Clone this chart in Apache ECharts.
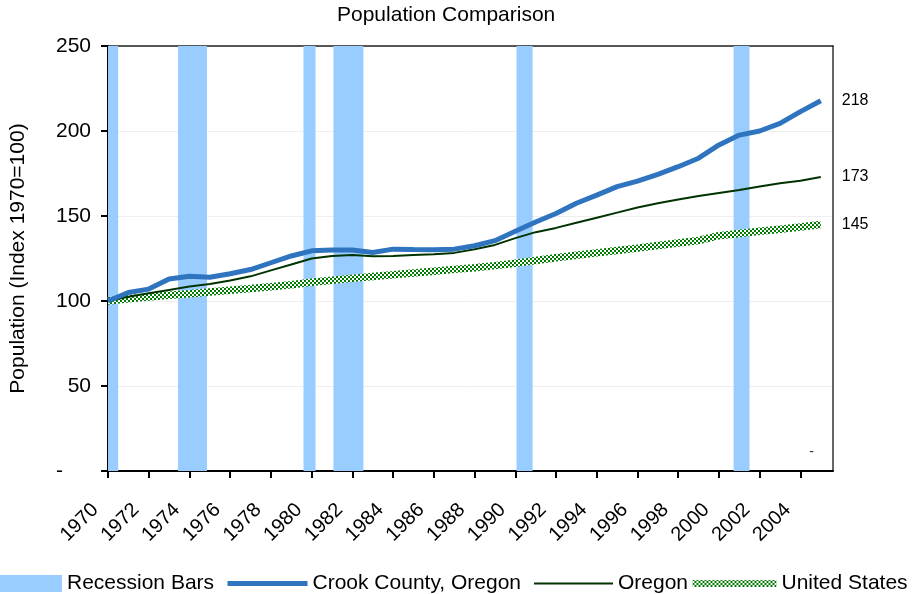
<!DOCTYPE html>
<html>
<head>
<meta charset="utf-8">
<script src="https://cdn.jsdelivr.net/npm/echarts@6/dist/echarts.min.js"></script>
<style>html,body{margin:0;padding:0;background:#fff}#c{width:913px;height:594px}</style>
</head>
<body>
<div id="c"></div>
<script>
// ---- data ----
const years = [1970,1971,1972,1973,1974,1975,1976,1977,1978,1979,1980,1981,1982,1983,1984,1985,1986,1987,1988,1989,1990,1991,1992,1993,1994,1995,1996,1997,1998,1999,2000,2001,2002,2003,2004,2005];
const crookCounty = [100,105,107,113,114.5,114,116,118.5,122.5,126.5,129.5,130,130,128.5,130.5,130.3,130.2,130.5,132.5,135.5,141,146.5,151.5,157.5,162.3,167.3,170.5,174.5,179,184,191.8,197.6,200,204.5,211.4,217.8];
const oregon = [100,102.5,104.5,106.5,108.5,110,112,114.5,118,121.5,125,126.5,127,126.3,126.5,127,127.5,128.3,130.5,133,137,140.5,143,146,149,152,155,157.5,159.7,161.7,163.5,165.3,167.3,169.3,170.7,173];
const unitedStates = [100,101.3,102.4,103.4,104.3,105.3,106.3,107.3,108.4,109.6,111,112.2,113.3,114.4,115.4,116.5,117.5,118.6,119.6,120.8,122.2,123.8,125.4,126.9,128.3,129.7,131.1,132.7,134.1,135.6,138.4,139.7,141,142.2,143.5,145];
const recessionStarts = [1970.0, 1973.44, 1979.6, 1981.07, 1990.06, 2000.72];
const recessionEnds   = [1970.5, 1974.86, 1980.19, 1982.54, 1990.85, 2001.5];
const xTickYears = [1970,1972,1974,1976,1978,1980,1982,1984,1986,1988,1990,1992,1994,1996,1998,2000,2002,2004];
const zeroMarker = [[2004.55, 0]];

// ---- pattern for United States line ----
const pc = document.createElement('canvas');
pc.width = 4; pc.height = 4;
const g = pc.getContext('2d');
g.fillStyle = '#ffffff'; g.fillRect(0,0,4,4);
g.fillStyle = '#007a00'; g.fillRect(0,0,2,2); g.fillRect(2,2,2,2);
const usPattern = { image: pc, repeat: 'repeat' };

const pair = (ys, vs) => ys.map((y, i) => [y, vs[i]]);
const FONT = 'Liberation Sans';
const legendText = { fontFamily: FONT, fontSize: 21, color: '#000' };
const endLabel = { show: true, distance: 21, fontSize: 16, color: '#000', fontFamily: FONT, formatter: p => Math.round(p.value[1]) };

const chart = echarts.init(document.getElementById('c'), null, { renderer: 'canvas' });
chart.setOption({
  animation: false,
  backgroundColor: '#ffffff',
  textStyle: { fontFamily: FONT, color: '#000' },
  title: {
    text: 'Population Comparison',
    left: 337, top: 5, padding: 0,
    textStyle: { fontFamily: FONT, fontSize: 21, fontWeight: 'normal', color: '#000' }
  },
  grid: { left: 105, right: 80, top: 46, bottom: 123, containLabel: false },
  legend: [
    {
      data: [{ name: 'Recession Bars', icon: 'rect' }],
      left: 0, top: 573, padding: 0, itemWidth: 62, itemHeight: 17,
      textStyle: legendText
    },
    {
      data: ['Crook County, Oregon'],
      left: 225, top: 573, padding: 0, itemWidth: 80, itemHeight: 17,
      itemStyle: { opacity: 0 }, lineStyle: { width: 5 },
      textStyle: legendText
    },
    {
      data: ['Oregon'],
      left: 533, top: 573, padding: 0, itemWidth: 79, itemHeight: 17,
      itemStyle: { opacity: 0 }, lineStyle: { width: 2 },
      textStyle: legendText
    },
    {
      data: ['United States'],
      left: 689, top: 573, padding: 0, itemWidth: 84, itemHeight: 17,
      itemStyle: { opacity: 0 }, lineStyle: { width: 7 },
      textStyle: legendText
    }
  ],
  xAxis: [
    {
      type: 'value', min: 1970, max: 2005.6,
      axisLine: { show: true, onZero: false, lineStyle: { color: '#000', width: 2 } },
      axisTick: { show: true, length: 7, lineStyle: { color: '#000', width: 2 }, customValues: xTickYears },
      axisLabel: { rotate: 45, fontSize: 20, color: '#000', fontFamily: FONT, margin: 23, padding: [0, 18, 0, 0], customValues: xTickYears, formatter: v => String(v) },
      splitLine: { show: false }
    },
    {
      type: 'value', position: 'top', min: 1970, max: 2005.6,
      axisLine: { show: true, onZero: false, lineStyle: { color: '#222', width: 1.5 } },
      axisTick: { show: false }, axisLabel: { show: false }, splitLine: { show: false }
    }
  ],
  yAxis: [
    {
      type: 'value', min: 0, max: 250, interval: 50,
      name: 'Population (Index 1970=100)', nameLocation: 'middle', nameGap: 79,
      nameTextStyle: { fontFamily: FONT, fontSize: 21, color: '#000' },
      axisLine: { show: true, onZero: false, lineStyle: { color: '#000', width: 2 } },
      axisTick: { show: true, length: 7, lineStyle: { color: '#000', width: 2 } },
      axisLabel: {
        fontSize: 21, color: '#000', fontFamily: FONT, margin: 17,
        formatter: v => v === 0 ? '{d|-}' : String(v),
        rich: { d: { fontSize: 21, fontFamily: FONT, color: '#000', padding: [0, 28, 0, 0] } }
      },
      splitLine: { show: true, lineStyle: { color: '#eeeeee', width: 1 } }
    },
    {
      type: 'value', position: 'right', min: 0, max: 250,
      axisLine: { show: true, onZero: false, lineStyle: { color: '#333', width: 1.5 } },
      axisTick: { show: false }, axisLabel: { show: false }, splitLine: { show: false }
    }
  ],
  series: [
    {
      name: 'Recession Bars', type: 'line', data: [], symbol: 'none', z: 0,
      itemStyle: { color: '#99CCFF' }, lineStyle: { color: '#99CCFF' },
      markArea: {
        silent: true,
        itemStyle: { color: '#99CCFF', opacity: 1 },
        data: recessionStarts.map((s, i) => [{ xAxis: s }, { xAxis: recessionEnds[i] }])
      }
    },
    {
      name: 'United States', type: 'line', data: pair(years, unitedStates), symbol: 'none', z: 3,
      itemStyle: { color: usPattern },
      lineStyle: { color: usPattern, width: 7.5 },
      endLabel: endLabel
    },
    {
      name: 'Oregon', type: 'line', data: pair(years, oregon), symbol: 'none', z: 4,
      itemStyle: { color: '#003300' },
      lineStyle: { color: '#003300', width: 2 },
      endLabel: endLabel
    },
    {
      name: 'Crook County, Oregon', type: 'line', data: pair(years, crookCounty), symbol: 'none', z: 5,
      itemStyle: { color: '#2F74BF' },
      lineStyle: { color: '#2F74BF', width: 5 },
      endLabel: endLabel
    },
    {
      name: 'zero', type: 'scatter', data: zeroMarker, symbolSize: 0, silent: true,
      label: { show: true, position: 'top', distance: 12, formatter: '-', fontSize: 14, color: '#000', fontFamily: FONT }
    }
  ]
});
</script>
</body>
</html>
